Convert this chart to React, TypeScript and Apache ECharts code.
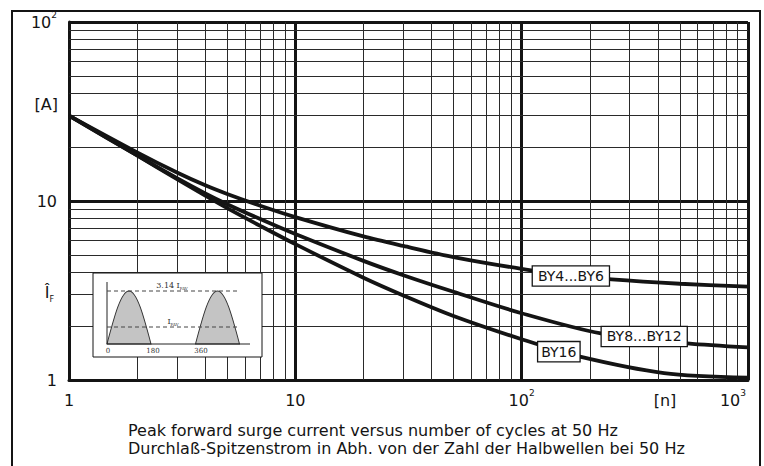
import React, { useEffect, useRef } from 'react';
import * as echarts from 'echarts';

// number of cycles (x) and peak forward surge current (y) for each curve
const cyclesA = [1, 2, 3, 4, 5, 7, 10, 20, 30, 50, 100, 165, 250, 500, 1000];
const currentA = [30, 18.7, 14.43, 12.24, 10.95, 9.41, 8.13, 6.34, 5.61, 4.86, 4.18, 3.85, 3.65, 3.45, 3.32];
const cyclesB = [1, 2, 3, 4, 5, 7, 10, 20, 30, 50, 100, 224, 540, 1000];
const currentB = [30, 17.96, 13.41, 11.03, 9.6, 7.93, 6.54, 4.63, 3.85, 3.11, 2.36, 1.82, 1.6, 1.52];
const cyclesC = [1, 2, 3, 4, 5, 7, 10, 20, 30, 50, 100, 177, 426, 1000];
const currentC = [30, 17.96, 13.25, 10.71, 9.12, 7.26, 5.74, 3.73, 2.97, 2.28, 1.69, 1.36, 1.094, 1.03];

const seriesNames = ['BY4...BY6', 'BY8...BY12', 'BY16'];
const labelAnchors = [
  [165, 3.81],
  [348, 1.75],
  [146, 1.44],
];
const labelPadding = [
  [3, 5, 2, 5],
  [3, 5, 2, 5],
  [3, 3, 2, 3],
];

const xMinorGrid = [2, 3, 4, 5, 6, 7, 8, 9, 20, 30, 40, 50, 60, 70, 80, 90, 200, 300, 400, 500, 600, 700, 800, 900];
const yMinorGrid = [2, 3, 4, 5, 6, 7, 8, 9, 20, 30, 40, 50, 60, 70, 80, 90];

const xTickLabels: Record<number, string> = {
  1: '{b|1}',
  10: '{b|10}',
  100: '{b|10}{s|2}',
  1000: '{b|10}{s|3}{gap|}',
};
const yTickLabels: Record<number, string> = {
  1: '{b|1}',
  10: '{b|10}',
  100: '{b|10}{s|2}',
};

const captionLines = [
  'Peak forward surge current versus number of cycles at 50 Hz',
  'Durchlaß-Spitzenstrom in Abh. von der Zahl der Halbwellen bei 50 Hz',
];

const FONT = '"DejaVu Sans", Verdana, sans-serif';
const SERIF = '"DejaVu Serif", "Liberation Serif", serif';
const INK = '#141414';

const richLabel = {
  b: { fontSize: 16, fontFamily: FONT, color: INK, lineHeight: 24 },
  s: { fontSize: 9, fontFamily: FONT, color: INK, lineHeight: 10, verticalAlign: 'top' },
  gap: { width: 30 },
};

let shapeRegistered = false;
function registerHump() {
  if (shapeRegistered) return;
  shapeRegistered = true;
  echarts.graphic.registerShape(
    'hump',
    echarts.graphic.extendPath('M0,100 C16.32,48.74 31.91,0 50,0 C68.09,0 83.68,48.74 100,100 Z', {}) as any
  );
}

export default function App() {
  const ref = useRef<HTMLDivElement>(null);

  useEffect(() => {
    if (!ref.current) return;
    registerHump();
    const chart = echarts.init(ref.current, undefined, { renderer: 'svg' });

    const curves = [
      [cyclesA, currentA],
      [cyclesB, currentB],
      [cyclesC, currentC],
    ];

    const series: any[] = [
      {
        type: 'line',
        name: 'grid',
        data: [],
        silent: true,
        z: 1,
        markLine: {
          silent: true,
          z: 1,
          symbol: ['none', 'none'],
          label: { show: false },
          emphasis: { disabled: true },
          lineStyle: { color: '#2a2a2a', width: 1, type: 'solid' },
          data: [
            ...xMinorGrid.map((v) => ({ xAxis: v })),
            ...yMinorGrid.map((v) => ({ yAxis: v })),
          ],
        },
      },
      ...curves.map(([xs, ys], i) => ({
        type: 'line',
        name: seriesNames[i],
        data: xs.map((x, j) => [x, ys[j]]),
        symbol: 'none',
        smooth: 0.3,
        z: 3,
        lineStyle: { color: INK, width: 3.8 },
        markPoint: {
          z: 10,
          symbol: 'rect',
          symbolSize: 1,
          itemStyle: { color: 'rgba(0,0,0,0)' },
          data: [
            {
              name: seriesNames[i],
              coord: labelAnchors[i],
              label: {
                show: true,
                position: 'inside',
                formatter: '{b}',
                fontFamily: FONT,
                fontSize: 14,
                color: INK,
                backgroundColor: '#fff',
                borderColor: INK,
                borderWidth: 1.3,
                padding: labelPadding[i],
              },
            },
          ],
        },
      })),
    ];

    const insetZ = 50;
    const graphic: any[] = [
      // outer frame
      {
        type: 'rect',
        z: insetZ,
        shape: { x: 12, y: 11, width: 748, height: 480 },
        style: { fill: 'none', stroke: INK, lineWidth: 2 },
        silent: true,
      },
      // axis titles
      {
        type: 'text',
        z: insetZ,
        x: 58,
        y: 104,
        style: { text: '[A]', font: `16px ${FONT}`, fill: INK, align: 'right', verticalAlign: 'middle' },
      },
      {
        type: 'text',
        z: insetZ,
        x: 54,
        y: 292,
        style: {
          text: '{b|Î}{f|F}',
          align: 'right',
          verticalAlign: 'middle',
          rich: {
            b: { fontSize: 16, fontFamily: FONT, fill: INK, lineHeight: 22, verticalAlign: 'middle' },
            f: { fontSize: 8, fontFamily: FONT, fill: INK, lineHeight: 10, verticalAlign: 'bottom' },
          },
        },
      },
      {
        type: 'text',
        z: insetZ,
        x: 665,
        y: 400,
        style: { text: '[n]', font: `16px ${FONT}`, fill: INK, align: 'center', verticalAlign: 'middle' },
      },
      ...captionLines.map((t, i) => ({
        type: 'text',
        z: insetZ,
        x: 128,
        y: 430 + i * 18,
        style: { text: t, font: `16px ${FONT}`, fill: INK, align: 'left', verticalAlign: 'middle' },
      })),
      // inset illustration
      {
        type: 'rect',
        z: insetZ,
        shape: { x: 93, y: 273, width: 169, height: 84 },
        style: { fill: '#fff', stroke: INK, lineWidth: 1 },
      },
      {
        type: 'hump',
        z: insetZ + 1,
        x: 107,
        y: 291,
        scaleX: 0.44,
        scaleY: 0.53,
        style: { fill: '#c4c4c4', stroke: '#333', lineWidth: 1, strokeNoScale: true },
      },
      {
        type: 'hump',
        z: insetZ + 1,
        x: 195.5,
        y: 291,
        scaleX: 0.44,
        scaleY: 0.53,
        style: { fill: '#c4c4c4', stroke: '#333', lineWidth: 1, strokeNoScale: true },
      },
      {
        type: 'line',
        z: insetZ + 2,
        shape: { x1: 107, y1: 282, x2: 107, y2: 344 },
        style: { stroke: '#222', lineWidth: 1 },
      },
      {
        type: 'line',
        z: insetZ + 2,
        shape: { x1: 107, y1: 344, x2: 250, y2: 344 },
        style: { stroke: '#222', lineWidth: 1 },
      },
      {
        type: 'line',
        z: insetZ + 2,
        shape: { x1: 107, y1: 291, x2: 240, y2: 291 },
        style: { stroke: '#444', lineWidth: 1, lineDash: [4, 3] },
      },
      {
        type: 'line',
        z: insetZ + 2,
        shape: { x1: 107, y1: 327, x2: 240, y2: 327 },
        style: { stroke: '#444', lineWidth: 1, lineDash: [4, 3] },
      },
      {
        type: 'text',
        z: insetZ + 3,
        x: 172,
        y: 285,
        style: {
          text: '{a|3.14 I}{s|FAV}',
          align: 'center',
          verticalAlign: 'middle',
          rich: {
            a: { fontSize: 8, fontFamily: SERIF, fill: '#333', lineHeight: 10 },
            s: { fontSize: 4, fontFamily: SERIF, fill: '#333', lineHeight: 10, verticalAlign: 'bottom' },
          },
        },
      },
      {
        type: 'text',
        z: insetZ + 3,
        x: 173,
        y: 321,
        style: {
          text: '{a|I}{s|FAV}',
          align: 'center',
          verticalAlign: 'middle',
          rich: {
            a: { fontSize: 8, fontFamily: SERIF, fill: '#333', lineHeight: 10 },
            s: { fontSize: 4, fontFamily: SERIF, fill: '#333', lineHeight: 10, verticalAlign: 'bottom' },
          },
        },
      },
      ...[
        ['0', 108],
        ['180', 153],
        ['360', 201],
      ].map(([t, x]) => ({
        type: 'text',
        z: insetZ + 3,
        x: x as number,
        y: 351,
        style: { text: t as string, font: `7px ${SERIF}`, fill: '#333', align: 'center', verticalAlign: 'middle' },
      })),
    ];

    chart.setOption({
      animation: false,
      backgroundColor: '#fff',
      grid: { left: 69, top: 22, right: 13, bottom: 86, show: false },
      xAxis: {
        type: 'log',
        logBase: 10,
        min: 1,
        max: 1000,
        axisLine: { show: true, lineStyle: { color: INK, width: 3 } },
        axisTick: { show: false },
        splitLine: { show: true, lineStyle: { color: INK, width: 3 } },
        axisLabel: {
          margin: 8,
          formatter: (v: number) => xTickLabels[Math.round(v)] ?? '',
          rich: richLabel,
        },
      },
      yAxis: {
        type: 'log',
        logBase: 10,
        min: 1,
        max: 100,
        axisLine: { show: true, lineStyle: { color: INK, width: 3 } },
        axisTick: { show: false },
        splitLine: { show: true, lineStyle: { color: INK, width: 3 } },
        axisLabel: {
          margin: 12,
          formatter: (v: number) => yTickLabels[Math.round(v)] ?? '',
          rich: richLabel,
        },
      },
      series,
      graphic,
    });

    return () => chart.dispose();
  }, []);

  return (
    <div
      ref={ref}
      style={{ position: 'fixed', left: 0, top: 0, width: 764, height: 466, background: '#fff' }}
    />
  );
}
